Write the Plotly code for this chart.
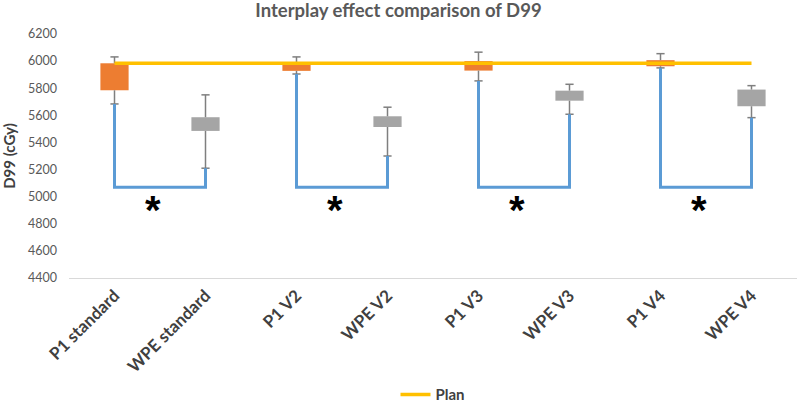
import plotly.graph_objects as go

categories = ["P1 standard", "WPE standard", "P1 V2", "WPE V2", "P1 V3", "WPE V3", "P1 V4", "WPE V4"]
whisker_low = [5684, 5210, 5905, 5300, 5854, 5608, 5950, 5583]
box_low = [5785, 5485, 5928, 5514, 5930, 5708, 5962, 5667]
box_high = [5984, 5586, 5975, 5593, 6000, 5782, 6007, 5790]
whisker_high = [6031, 5751, 6031, 5660, 6066, 5829, 6055, 5819]
plan = [5985] * 8
bracket_level = 5070
star_level = 4900
box_colors = ["#ED7D31", "#A5A5A5"] * 4

FONT = "Lato"
x = list(range(len(categories)))
fig = go.Figure()

# boxes
fig.add_trace(go.Bar(
    x=x, y=[h - l for h, l in zip(box_high, box_low)], base=box_low,
    width=0.31, marker=dict(color=box_colors, line=dict(width=0)),
    showlegend=False, hoverinfo="skip"))

# whiskers
cap = 0.045
wx, wy = [], []
for i in x:
    wx += [i, i, None, i - cap, i + cap, None, i, i, None, i - cap, i + cap, None]
    wy += [box_high[i], whisker_high[i], None, whisker_high[i], whisker_high[i], None,
           box_low[i], whisker_low[i], None, whisker_low[i], whisker_low[i], None]
fig.add_trace(go.Scatter(x=wx, y=wy, mode="lines", line=dict(color="#7F7F7F", width=1.5),
                         showlegend=False, hoverinfo="skip"))

# significance brackets
bx, by = [], []
for i in range(0, len(categories), 2):
    bx += [i, i, i + 1, i + 1, None]
    by += [whisker_low[i], bracket_level, bracket_level, whisker_low[i + 1], None]
fig.add_trace(go.Scatter(x=bx, y=by, mode="lines", line=dict(color="#5B9BD5", width=3),
                         showlegend=False, hoverinfo="skip"))

# plan line
fig.add_trace(go.Scatter(x=x, y=plan, mode="lines", name="<b>Plan</b>",
                         line=dict(color="#FFC000", width=3.5)))

# asterisks
for i in range(0, len(categories), 2):
    fig.add_annotation(x=i + 0.42, y=star_level, text="<b>*</b>", showarrow=False,
                       font=dict(size=40, color="#000000", family="Liberation Sans"),
                       yanchor="middle", xanchor="center")

fig.update_layout(
    width=797, height=402,
    margin=dict(l=69, r=0, t=34, b=124),
    plot_bgcolor="white", paper_bgcolor="white",
    title=dict(text="<b>Interplay effect comparison of D99</b>", x=0.5, xanchor="center",
               y=1, yanchor="top", yref="container", pad=dict(t=4),
               font=dict(size=18.5, color="#595959", family=FONT)),
    legend=dict(orientation="h", x=0.5, xanchor="center", y=0.018, yanchor="middle",
                yref="container", font=dict(size=15, color="#404040", family=FONT)),
    font=dict(family=FONT, color="#595959"),
    barmode="overlay",
)
fig.update_xaxes(range=[-0.5, 7.5], tickvals=x, automargin=False,
                 ticktext=["<b>" + c + "</b>" for c in categories], tickangle=-45,
                 tickfont=dict(size=17, color="#404040", family=FONT),
                 showline=True, linecolor="#D9D9D9", linewidth=1, showgrid=False,
                 zeroline=False, ticks="")
fig.update_yaxes(range=[4400, 6200], dtick=200, showgrid=False, zeroline=False, automargin=False,
                 showline=False, ticks="", ticklabelstandoff=11,
                 tickfont=dict(size=12.5, color="#595959", family=FONT),
                 title=dict(text="<b>D99 (cGy)</b>", font=dict(size=15, color="#404040", family=FONT),
                            standoff=8))

fig.write_html("out.html", config={"displayModeBar": False},
               post_script="document.body.style.margin='0';document.body.style.overflow='hidden';")
